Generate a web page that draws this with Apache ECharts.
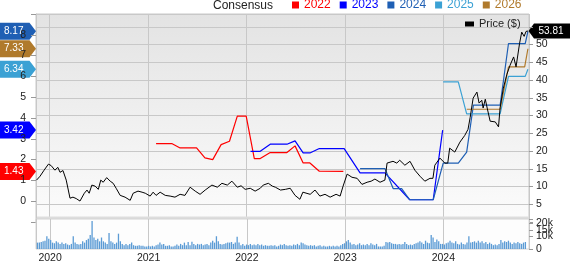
<!DOCTYPE html>
<html><head><meta charset="utf-8">
<script src="https://cdn.jsdelivr.net/npm/echarts@6/dist/echarts.min.js"></script>
<style>html,body{margin:0;padding:0;background:#fff}#c{width:570px;height:264px}</style>
</head><body><div id="c"></div>
<script>
const FONT = '"Liberation Sans", Arial, sans-serif';

// Price ($)
const priceDates = ['2019-11-14','2019-11-27','2019-12-12','2019-12-28','2020-01-07','2020-01-21','2020-02-01','2020-02-09','2020-02-20','2020-03-03','2020-03-17','2020-03-28','2020-04-09','2020-04-23','2020-05-09','2020-05-19','2020-05-27','2020-06-06','2020-06-18','2020-06-30','2020-07-09','2020-07-18','2020-07-31','2020-08-13','2020-08-24','2020-09-04','2020-09-19','2020-10-07','2020-10-26','2020-11-06','2020-11-24','2020-12-09','2020-12-21','2021-01-08','2021-01-19','2021-01-30','2021-02-14','2021-03-05','2021-03-23','2021-04-10','2021-04-29','2021-05-17','2021-06-05','2021-06-24','2021-07-12','2021-07-31','2021-08-25','2021-09-14','2021-10-01','2021-10-21','2021-11-07','2021-11-27','2021-12-11','2021-12-26','2022-01-14','2022-02-01','2022-02-20','2022-03-03','2022-03-22','2022-04-06','2022-04-17','2022-05-06','2022-05-24','2022-06-11','2022-06-29','2022-07-17','2022-07-28','2022-08-24','2022-09-11','2022-09-29','2022-10-18','2022-11-06','2022-11-28','2022-12-13','2022-12-24','2023-01-08','2023-01-26','2023-02-14','2023-03-04','2023-03-23','2023-04-07','2023-04-21','2023-05-10','2023-05-28','2023-06-05','2023-06-27','2023-07-11','2023-07-22','2023-08-10','2023-08-29','2023-09-16','2023-10-05','2023-10-23','2023-11-11','2023-11-22','2023-11-29','2023-12-18','2024-01-05','2024-01-16','2024-01-23','2024-02-11','2024-03-01','2024-03-19','2024-03-31','2024-04-08','2024-04-19','2024-05-03','2024-05-11','2024-05-21','2024-05-26','2024-06-03','2024-06-10','2024-06-21','2024-07-10','2024-07-22','2024-07-28','2024-08-09','2024-08-22','2024-09-03','2024-09-16','2024-09-25','2024-10-08','2024-10-16','2024-10-25','2024-11-01','2024-11-08'];
const priceValues = [11.8,12.9,14.6,16.3,15.9,14.6,15.4,14.0,14.5,11.8,6.7,7.0,6.6,5.9,8.1,9.0,8.1,10.4,10.1,9.2,11.8,11.2,12.5,11.5,10.9,9.5,7.5,7.0,6.1,8.1,8.7,8.4,8.1,7.3,8.4,7.5,8.4,7.5,7.3,7.0,7.8,7.5,9.8,8.7,7.8,9.0,10.4,9.8,10.9,10.4,11.5,9.8,10.2,9.2,9.5,8.7,9.5,10.4,10.9,10.1,9.8,9.0,9.2,9.5,7.5,6.4,8.4,7.8,9.0,7.3,7.8,7.0,7.8,7.3,10.1,13.5,12.6,12.3,10.6,11.2,11.5,12.1,11.2,11.8,16.6,17.1,16.6,17.4,16.0,17.1,14.6,12.9,11.5,12.3,12.3,16.0,18.0,16.6,16.6,20.8,19.7,22.5,24.4,26.1,29.5,34.9,36.6,33.5,34.3,32.1,34.6,32.1,28.4,28.2,26.8,32.3,37.7,41.6,44.2,46.5,43.7,50.3,53.5,52.3,53.7,53.81];

// Consensus EPS estimates by fiscal year
const eps2022Dates = ['2021-01-30','2021-03-29','2021-04-29','2021-06-29','2021-07-30','2021-08-28','2021-09-28','2021-10-29','2021-11-27','2021-12-30','2022-01-29','2022-02-20','2022-03-29','2022-05-30','2022-06-29','2022-07-29','2022-08-23','2022-09-27','2022-12-25'];
const eps2022Values = [2.77,2.77,2.56,2.56,2.08,2.00,2.72,2.88,4.09,4.09,2.05,2.05,2.34,2.34,2.66,1.84,1.84,1.44,1.43];
const eps2023Dates = ['2022-01-15','2022-02-20','2022-03-29','2022-05-30','2022-06-29','2022-07-29','2022-08-23','2022-09-27','2022-12-28','2023-02-25','2023-05-28','2023-08-28','2023-11-23','2023-12-28'];
const eps2023Values = [2.40,2.40,2.74,2.74,2.90,2.32,2.32,2.53,2.53,1.36,1.36,0.07,0.07,3.42];
const eps2024Dates = ['2023-02-25','2023-05-28','2023-06-28','2023-07-29','2023-08-28','2023-11-23','2023-12-30','2024-02-24','2024-03-26','2024-04-20','2024-07-28','2024-08-28','2024-10-29','2024-11-08'];
const eps2024Values = [1.57,1.57,0.60,0.60,0.07,0.07,1.83,1.83,2.36,4.62,4.62,7.58,7.58,8.17];
const eps2025Dates = ['2023-12-30','2024-02-24','2024-03-26','2024-07-28','2024-08-28','2024-10-29','2024-11-08'];
const eps2025Values = [5.74,5.74,4.20,4.20,6.00,6.00,6.34];
const eps2026Dates = ['2024-03-26','2024-07-28','2024-08-28','2024-10-27','2024-11-08'];
const eps2026Values = [4.42,4.42,6.46,6.46,7.33];

// Weekly volume (thousands), starting week of 2019-11-15
const volumeK = [5,5,5.5,6,6.5,10,8,7,5,4.5, 6,5,4,5,4,4.5,3.5,3,4,10, 5,4,3.5,4,6,5,7,8,11,22,
 9,7,8,6,9,6,5,4,12.5,6, 5,4,5,12,6,4,3,4,3,4, 5,3,2.5,2.5,3,2.5,2.5,2,2,2.5, 2,2.5,2,3,3.5,5,3.5,4,2.5,2.5,
 3,2,2,2.5,3.5,2.5,4,3,5,3, 5.5,3,5.7,4,3,4,3.5,4,3,3.5, 4,3,5,6.5,5,10,6,4,3.5,4, 4.5,5,5,5.5,4,5,9.5,5,3,4,
 2.5,3.5,3,4,3,3.5,3,4,3,3.5, 2.5,3,2.5,2.5,3,2.5,3,2,2.5,3.5, 3,4,3,2.5,3,2.5,3.5,3,4,3, 5,4.5,3.5,3,2.5,3,2.5,3,2,2.5,
 3,2,2.5,2,2,2.5,2,2.5,2,2.5, 2,3,4,4.5,6,7,5,3.5,4,3, 3.5,4.5,3,3.5,3,4,3,4.5,3.5,3, 4,2,2,2,2.5,5.5,5,5.5,4.5,4,
 4,3.5,4,3.5,4,5.5,4,3,3.5,3, 4,4.5,5,6,5,4,6.5,5,4.5,11, 9,5.5,7.5,6,4,4,3.5,4.5,5,6.5, 5,4.5,6,4,3.5,5,4,3.5,5,10,
 5,5.5,6,5,6.5,5,6,4.5,5.5,4, 5,4,3,3.5,3,4,7,5,6,5.5, 6.5,5,4,5,4.5,5.5,4.5,4,5,5.5];

const yearNames = ['2022','2023','2024','2025','2026'];
const yearColors = ['#ff0000','#0000ff','#1f5fb4','#3ba1d4','#b07a2c'];
const epsDates = [eps2022Dates, eps2023Dates, eps2024Dates, eps2025Dates, eps2026Dates];
const epsValues = [eps2022Values, eps2023Values, eps2024Values, eps2025Values, eps2026Values];

const zip = (a, b) => a.map((d, i) => [d, b[i]]);
const volStart = new Date(2019, 10, 15).getTime();
const volData = volumeK.map((v, i) => [volStart + i * 7 * 864e5, v]);

const GRID = '#c8c8c8';
const yearFmt = v => { const d = new Date(v); return (d.getMonth() === 0 && d.getDate() === 1) ? String(d.getFullYear()) : ''; };
const YEAR_MS = 365 * 864e5;

const chart = echarts.init(document.getElementById('c'), null, { renderer: 'canvas' });
const series = yearNames.map((n, k) => ({
  name: n, type: 'line', xAxisIndex: 0, yAxisIndex: 0,
  data: zip(epsDates[k], epsValues[k]), symbol: 'none',
  color: yearColors[k], lineStyle: { width: 1.2, color: yearColors[k] }
}));
series.push({
  name: 'Volume', type: 'bar', xAxisIndex: 1, yAxisIndex: 2, data: volData,
  barWidth: 1.3, itemStyle: { color: '#5b9bd5' }, z: 3
});
series.push({
  name: 'Price ($)', type: 'line', xAxisIndex: 0, yAxisIndex: 1,
  data: zip(priceDates, priceValues), symbol: 'none',
  color: '#000', lineStyle: { width: 1, color: '#000' }, z: 4
});

const option = {
  animation: false,
  textStyle: { fontFamily: FONT },
  grid: [
    { left: 36, right: 41, top: 14, height: 208, show: true,
      backgroundColor: { type: 'linear', x: 0, y: 0, x2: 0, y2: 1, colorStops: [{ offset: 0, color: '#e3e3e3' }, { offset: 1, color: '#fcfcfc' }] },
      borderColor: GRID, borderWidth: 1 },
    { left: 36, right: 41, top: 219, height: 34.5, show: true, z: 1,
      backgroundColor: '#fdfdfd', borderColor: '#d4d4d4', borderWidth: 1 }
  ],
  legend: [
    { data: yearNames.map((n, k) => ({ name: n, textStyle: { color: yearColors[k] } })),
      left: 292, top: -1, padding: 0, itemGap: 9, itemWidth: 7, itemHeight: 7, icon: 'rect',
      textStyle: { fontSize: 12, fontFamily: FONT } },
    { data: ['Price ($)'], left: 465, top: 18.5, padding: 0, itemWidth: 9, itemHeight: 5, icon: 'rect',
      textStyle: { fontSize: 11, color: '#222', fontFamily: FONT } }
  ],
  xAxis: [
    { type: 'time', gridIndex: 0, min: '2019-11-12', max: '2024-11-12',
      minInterval: YEAR_MS, maxInterval: YEAR_MS + 864e5,
      axisLabel: { show: false }, axisTick: { show: false }, axisLine: { show: false },
      splitLine: { show: true, lineStyle: { color: GRID, width: 1 } } },
    { type: 'time', gridIndex: 1, min: '2019-11-12', max: '2024-11-12', z: 2,
      minInterval: YEAR_MS, maxInterval: YEAR_MS + 864e5,
      axisLabel: { formatter: yearFmt, fontSize: 10.5, color: '#222', margin: 4, fontFamily: FONT },
      axisTick: { show: false }, axisLine: { show: false },
      splitLine: { show: true, lineStyle: { color: GRID, width: 1 } } }
  ],
  yAxis: [
    { type: 'value', gridIndex: 0, position: 'left', min: -1, max: 9, interval: 1,
      axisLine: { show: true, lineStyle: { color: GRID } },
      axisTick: { show: true, length: 5, lineStyle: { color: '#999' } },
      axisLabel: { fontSize: 10.5, color: '#222', margin: 10, fontFamily: FONT,
        formatter: v => (v < 0 || v > 8) ? '' : String(v) },
      splitLine: { show: false } },
    { type: 'value', gridIndex: 0, position: 'right', min: 0, max: 58.6, interval: 5,
      axisLine: { show: false },
      axisTick: { show: true, length: 4, lineStyle: { color: '#999' } },
      axisLabel: { fontSize: 10.5, color: '#222', margin: 7, fontFamily: FONT, showMaxLabel: false,
        formatter: v => (v === 0 || v > 50 || v % 5 !== 0) ? '' : String(v) },
      splitLine: { show: true, lineStyle: { color: GRID, width: 1 } } },
    { type: 'value', gridIndex: 1, position: 'right', min: 0, max: 23.5, interval: 5, z: 2,
      axisLine: { show: false },
      axisTick: { show: true, length: 4, lineStyle: { color: '#999' } },
      axisLabel: { fontSize: 10.5, color: '#222', margin: 7, fontFamily: FONT,
        showMinLabel: true, hideOverlap: false,
        formatter: v => v === 0 ? '0' : (v % 5 !== 0 ? '' : v + 'k') },
      splitLine: { show: false } }
  ],
  series
};
chart.setOption(option);

// Flags and annotations positioned through the library's scales
const flagVals = [8.17, 7.33, 6.34, 3.42, 1.43];
const flagColors = ['#1f5fb4', '#b07a2c', '#3ba1d4', '#0000ff', '#ff0000'];
const els = [];
els.push({ type: 'rect', shape: { x: 36, y: 216.5, width: 493, height: 2.5 }, style: { fill: '#dddddd' } });
els.push({ type: 'text', x: 213, y: 5.5, style: { text: 'Consensus', fill: '#222', fontSize: 12, fontFamily: FONT, verticalAlign: 'middle' } });
els.push({ type: 'text', x: 46.5, y: 229, style: { text: 'Volume', fill: '#3a88cc', fontSize: 12, fontFamily: FONT, verticalAlign: 'middle' } });
flagVals.forEach((v, k) => {
  const y = chart.convertToPixel({ yAxisIndex: 0 }, v);
  els.push({ type: 'polygon', shape: { points: [[0, y - 8.5], [29.5, y - 8.5], [36, y], [29.5, y + 8.5], [0, y + 8.5]] }, style: { fill: flagColors[k] } });
  els.push({ type: 'text', x: 4, y: y, style: { text: v.toFixed(2), fill: '#fff', fontSize: 10, fontFamily: FONT, verticalAlign: 'middle' } });
});
const lastPrice = priceValues[priceValues.length - 1];
const py = chart.convertToPixel({ yAxisIndex: 1 }, lastPrice);
els.push({ type: 'polygon', shape: { points: [[528.5, py], [534, py - 7.5], [572, py - 7.5], [572, py + 7.5], [534, py + 7.5]] }, style: { fill: '#000' } });
els.push({ type: 'text', x: 538.5, y: py, style: { text: lastPrice.toFixed(2), fill: '#fff', fontSize: 10, fontFamily: FONT, verticalAlign: 'middle' } });
chart.setOption({ graphic: { elements: els } });
</script>
</body></html>
